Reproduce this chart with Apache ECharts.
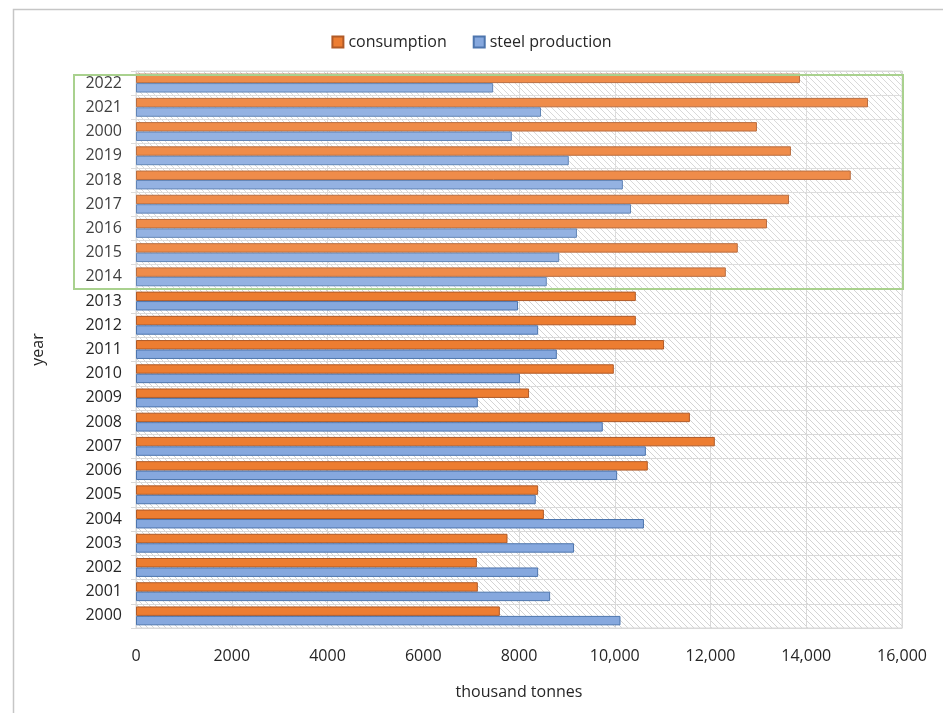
<!DOCTYPE html>
<html>
<head>
<meta charset="utf-8">
<script src="https://cdn.jsdelivr.net/npm/echarts@6/dist/echarts.min.js"></script>
<style>
  html, body { margin: 0; padding: 0; background: #fff; }
  #main { width: 943px; height: 713px; }
</style>
</head>
<body>
<div id="main"></div>
<script>
// years bottom -> top (the label "2000" above 2019 is as printed in the source)
const years = ['2000', '2001', '2002', '2003', '2004', '2005', '2006', '2007', '2008', '2009', '2010',
  '2011', '2012', '2013', '2014', '2015', '2016', '2017', '2018', '2019', '2000', '2021', '2022'];
const consumption = [7600, 7140, 7120, 7760, 8520, 8400, 10690, 12090, 11570, 8210, 9980,
  11030, 10440, 10440, 12320, 12570, 13180, 13640, 14930, 13680, 12970, 15290, 13870];
const steelProduction = [10120, 8650, 8400, 9150, 10610, 8350, 10050, 10650, 9750, 7140, 8020,
  8790, 8400, 7980, 8580, 8840, 9210, 10340, 10170, 9040, 7850, 8460, 7460];
const xTicks = [0, 2000, 4000, 6000, 8000, 10000, 12000, 14000, 16000];
const highlightFrom = 14; // index of 2014 in years

const font = "'Open Sans', 'Noto Sans', sans-serif";
const textColor = '#262626';

// diagonal hatch used behind the bars
const hatch = document.createElement('canvas');
hatch.width = 6;
hatch.height = 6;
const hctx = hatch.getContext('2d');
hctx.fillStyle = '#fff';
hctx.fillRect(0, 0, 6, 6);
hctx.strokeStyle = '#d4d4d4';
hctx.lineWidth = 1;
hctx.beginPath();
hctx.moveTo(-1, -1); hctx.lineTo(7, 7);
hctx.moveTo(-1, 5); hctx.lineTo(1, 7);
hctx.moveTo(5, -1); hctx.lineTo(7, 1);
hctx.stroke();

const chart = echarts.init(document.getElementById('main'));

chart.setOption({
  backgroundColor: '#fff',
  animation: false,
  legend: {
    data: ['consumption', 'steel production'],
    top: 29,
    left: 'center',
    itemWidth: 11,
    itemHeight: 11,
    itemGap: 26,
    icon: 'rect',
    textStyle: { fontFamily: font, fontSize: 16, color: textColor }
  },
  grid: {
    left: 136, right: 41, top: 71, bottom: 85,
    show: true,
    borderColor: '#d9d9d9',
    borderWidth: 1,
    backgroundColor: { image: hatch, repeat: 'repeat' }
  },
  xAxis: {
    type: 'value',
    min: 0,
    max: 16000,
    interval: 2000,
    name: 'thousand tonnes',
    nameLocation: 'middle',
    nameGap: 56,
    nameTextStyle: { fontFamily: font, fontSize: 16, color: textColor },
    axisLine: { show: true, lineStyle: { color: '#d9d9d9' } },
    axisTick: { show: false },
    splitLine: { show: true, lineStyle: { color: '#d9d9d9' } },
    axisLabel: {
      fontFamily: font, fontSize: 16, color: textColor, margin: 20,
      formatter: v => xTicks.includes(v) ? (v >= 10000 ? v.toLocaleString('en-US') : String(v)) : ''
    }
  },
  yAxis: {
    type: 'category',
    data: years,
    name: 'year',
    nameLocation: 'middle',
    nameGap: 90,
    nameTextStyle: { fontFamily: font, fontSize: 16, color: textColor },
    axisLine: { show: true, lineStyle: { color: '#d9d9d9' } },
    axisTick: { show: true, length: 5, lineStyle: { color: '#d9d9d9' } },
    splitLine: { show: true, lineStyle: { color: '#d9d9d9' } },
    axisLabel: { fontFamily: font, fontSize: 16, color: textColor, margin: 14, interval: 0 }
  },
  series: [
    {
      name: 'consumption',
      type: 'bar',
      data: consumption,
      barGap: '0%',
      barCategoryGap: '22%',
      itemStyle: { color: '#ed7d31', borderColor: '#b05a27', borderWidth: 1 }
    },
    {
      name: 'steel production',
      type: 'bar',
      data: steelProduction,
      barGap: '0%',
      barCategoryGap: '22%',
      itemStyle: { color: '#86a8de', borderColor: '#4d75ad', borderWidth: 1 }
    }
  ]
});

// green outline around 2014-2022 (labels included) and the outer frame
const yLow = chart.convertToPixel({ yAxisIndex: 0 }, highlightFrom);
const yTop = chart.convertToPixel({ yAxisIndex: 0 }, years.length - 1);
const band = (yLow - yTop) / (years.length - 1 - highlightFrom);
const xRight = chart.convertToPixel({ xAxisIndex: 0 }, 16000);

chart.setOption({
  graphic: [
    {
      type: 'rect',
      shape: { x: 13.5, y: 9.5, width: 940, height: 710 },
      style: { fill: 'none', stroke: '#c6c6c6', lineWidth: 1.5 },
      silent: true
    },
    {
      type: 'rect',
      shape: {
        x: 74,
        y: yTop - band / 2 + 4,
        width: xRight + 1 - 74,
        height: (yLow + band / 2) - (yTop - band / 2 + 4)
      },
      style: { fill: 'rgba(255,255,255,0.12)', stroke: '#a9d18e', lineWidth: 2 },
      silent: true,
      z: 100
    }
  ]
});
</script>
</body>
</html>
